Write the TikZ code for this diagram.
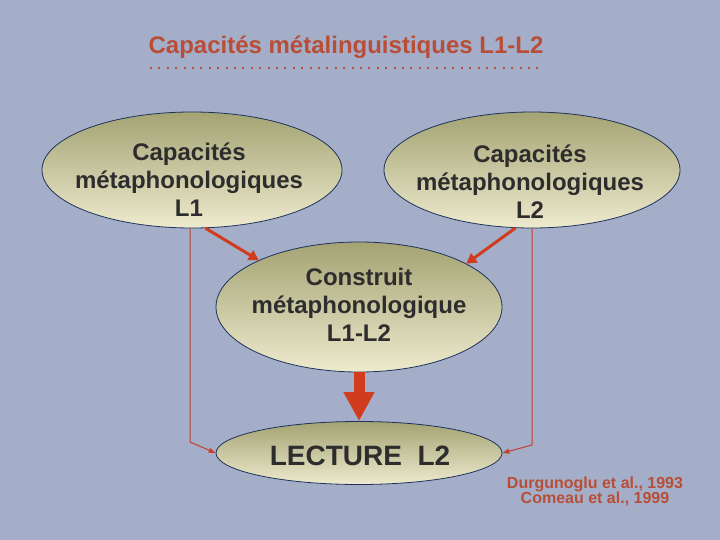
\documentclass[tikz,border=0pt]{standalone}
\usepackage{fontspec}
\setmainfont{Liberation Sans}
\usetikzlibrary{arrows.meta,shapes.geometric,calc}
\definecolor{bgc}{RGB}{164,174,200}
\definecolor{titlec}{RGB}{184,78,56}
\definecolor{arrc}{RGB}{210,60,30}
\definecolor{thinc}{RGB}{196,64,48}
\definecolor{topc}{RGB}{163,163,115}
\definecolor{botc}{RGB}{238,234,206}
\definecolor{edgec}{RGB}{30,50,90}
\definecolor{txtc}{RGB}{45,45,45}
\begin{document}
\begin{tikzpicture}[x=1pt,y=1pt,
  oval/.style={ellipse,draw=edgec,line width=0.8pt,top color=topc,bottom color=botc,inner sep=0pt},
  otext/.style={text=txtc,align=center,font=\fontsize{24}{28}\selectfont\bfseries},
  redarrow/.style={draw=arrc,line width=3pt,-{Triangle[length=10pt,width=11pt]}},
  thinarrow/.style={draw=thinc,line width=1pt,-{Triangle[length=7pt,width=5pt]}},
  bigarrow/.style={draw=arrc,line width=11pt,-{Triangle[length=29pt,width=29pt]}}
]
\fill[bgc] (0,0) rectangle (720,-540);
\useasboundingbox (0,0) rectangle (720,-540);

% title
\node[text=titlec,font=\fontsize{24}{26}\selectfont\bfseries,anchor=base] (title) at (346,-54) {Capacités métalinguistiques L1-L2};
\draw[titlec,line width=2pt,dash pattern=on 2pt off 6.4pt] (150,-68) -- (543,-68);

% ellipses
\node[oval,minimum width=300pt,minimum height=116pt] (l1) at (192,-170) {};
\node[oval,minimum width=296pt,minimum height=116pt] (l2) at (532,-170) {};
\node[oval,minimum width=286pt,minimum height=130pt] (mid) at (359,-307) {};
\node[oval,minimum width=286pt,minimum height=63pt] (lec) at (359,-453) {};

% texts
\node[otext] (l1t) at (189,-180) {Capacités\\métaphonologiques\\L1};
\node[otext] (l2t) at (530,-182) {Capacités\\métaphonologiques\\L2};
\node[otext] (midt) at (359,-305) {Construit\\métaphonologique\\L1-L2};
\node[otext,font=\fontsize{28}{30}\selectfont\bfseries,anchor=base] (lect) at (360,-465) {LECTURE\ \ L2};

% citation
\node[text=titlec,font=\fontsize{16}{15}\selectfont\bfseries,align=center,anchor=base] (cit) at (595,-503) {Durgunoglu et al., 1993\\Comeau et al., 1999};

% connectors
\draw[redarrow] (l1.-77) -- (mid.155);
\draw[redarrow] (l2.-106) -- (mid.22);
\draw[bigarrow] (mid.south) -- (lec.north);

\coordinate (cL) at (190,-442);
\coordinate (cR) at (532,-445);
\draw[thinarrow] (l1.south -| cL) -- (cL) -- (lec.west);
\draw[thinarrow] (l2.south -| cR) -- (cR) -- (lec.east);
\end{tikzpicture}
\end{document}
